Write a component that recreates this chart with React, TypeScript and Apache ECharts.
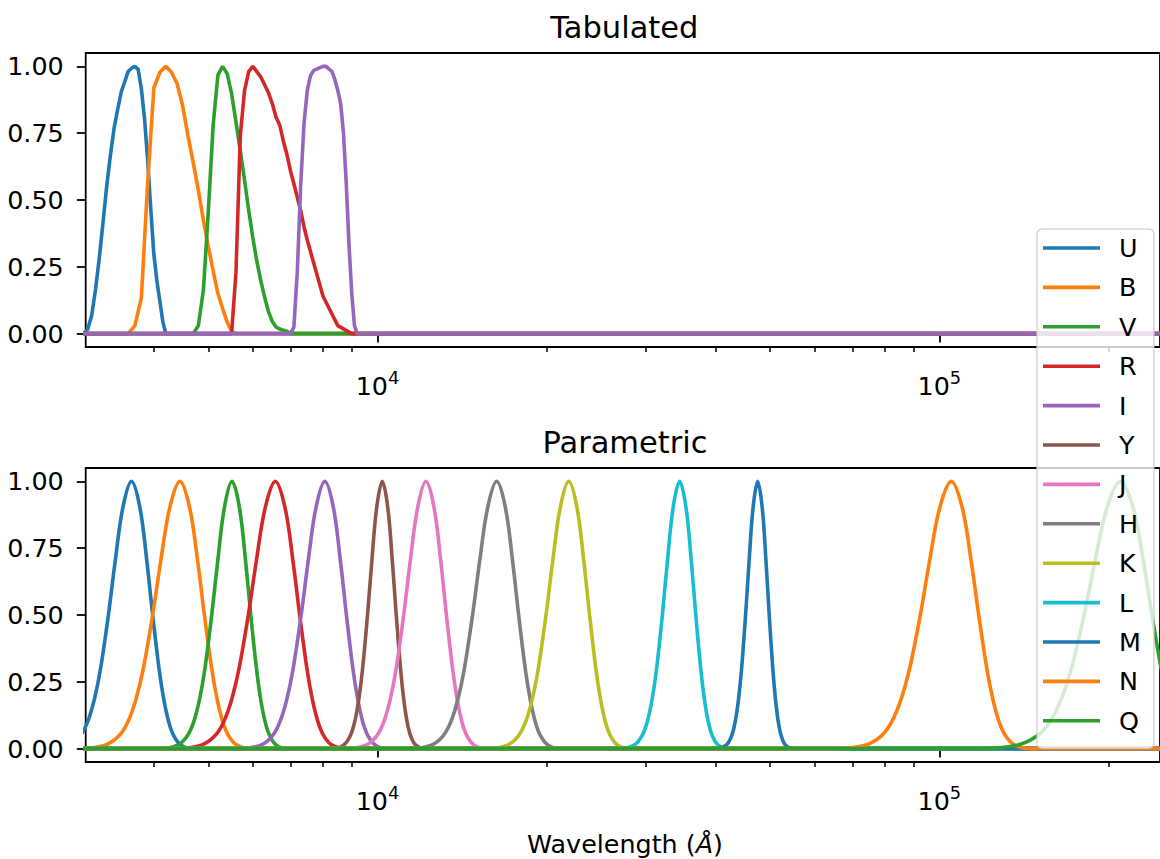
import React, { useEffect, useRef } from "react";
import * as echarts from "echarts";

// ---------- axis data ----------
const X_MIN = 3025; // Å, left edge of the wavelength axis
const X_MAX = 247000; // Å, right edge (just beyond the picture)
const CURVE_RANGE = [2000, 400000]; // Å, the curves are evaluated (at zero) over this range
const MAJOR_TICKS = [10000, 100000];
const MINOR_TICKS = [4000, 5000, 6000, 7000, 8000, 9000, 20000, 30000, 40000, 50000, 60000, 70000, 80000, 90000, 200000];
const Y_TICKS = [0, 0.25, 0.5, 0.75, 1];

const COLORS = ["#1f77b4", "#ff7f0e", "#2ca02c", "#d62728", "#9467bd", "#8c564b", "#e377c2", "#7f7f7f", "#bcbd22", "#17becf", "#1f77b4", "#ff7f0e", "#2ca02c"];

// ---------- tabulated filters: [wavelength Å, transmission] ----------
const TAB_NAMES = ["U", "B", "V", "R", "I"];
const TAB_U = [[3000, 0], [3050, 0.016], [3100, 0.068], [3150, 0.167], [3200, 0.287], [3250, 0.423], [3300, 0.56], [3350, 0.673], [3400, 0.772], [3450, 0.841], [3500, 0.905], [3550, 0.943], [3600, 0.981], [3650, 0.993], [3700, 1.0], [3750, 0.989], [3800, 0.916], [3850, 0.804], [3900, 0.647], [3950, 0.463], [4000, 0.296], [4050, 0.197], [4100, 0.121], [4150, 0.044], [4200, 0]];
const TAB_B = [[3600, 0], [3700, 0.03], [3800, 0.134], [3900, 0.567], [4000, 0.92], [4100, 0.978], [4200, 1.0], [4300, 0.978], [4400, 0.935], [4500, 0.853], [4600, 0.74], [4700, 0.64], [4800, 0.536], [4900, 0.424], [5000, 0.325], [5100, 0.235], [5200, 0.15], [5300, 0.095], [5400, 0.043], [5500, 0.009], [5600, 0]];
const TAB_V = [[4700, 0], [4800, 0.03], [4900, 0.163], [5000, 0.458], [5100, 0.78], [5200, 0.967], [5300, 1.0], [5400, 0.973], [5500, 0.898], [5600, 0.792], [5700, 0.684], [5800, 0.574], [5900, 0.461], [6000, 0.359], [6100, 0.27], [6200, 0.197], [6300, 0.135], [6400, 0.081], [6500, 0.045], [6600, 0.025], [6700, 0.017], [6800, 0.013], [6900, 0.009], [7000, 0]];
const TAB_R = [[5500, 0], [5600, 0.23], [5700, 0.74], [5800, 0.91], [5900, 0.98], [6000, 1.0], [6100, 0.98], [6200, 0.96], [6300, 0.93], [6400, 0.9], [6500, 0.86], [6600, 0.81], [6700, 0.78], [6800, 0.72], [6900, 0.67], [7000, 0.61], [7100, 0.56], [7200, 0.51], [7300, 0.46], [7400, 0.4], [7500, 0.35], [8000, 0.14], [8500, 0.03], [9000, 0]];
const TAB_I = [[7000, 0], [7100, 0.024], [7200, 0.232], [7300, 0.555], [7400, 0.785], [7500, 0.91], [7600, 0.965], [7700, 0.985], [7800, 0.99], [7900, 0.995], [8000, 1.0], [8100, 1.0], [8200, 0.99], [8300, 0.98], [8400, 0.95], [8500, 0.91], [8600, 0.86], [8700, 0.75], [8800, 0.56], [8900, 0.33], [9000, 0.15], [9100, 0.03], [9200, 0]];
const TAB_DATA = [TAB_U, TAB_B, TAB_V, TAB_R, TAB_I];

// ---------- parametric filters: wavelengths (Å) at these transmission levels ----------
const PARAM_NAMES = ["U", "B", "V", "R", "I", "Y", "J", "H", "K", "L", "M", "N", "Q"];
const PARAM_LEVELS = [0, 0.013, 0.047, 0.1, 0.185, 0.3, 0.5, 0.7, 0.9, 1, 0.9, 0.7, 0.5, 0.3, 0.185, 0.1, 0.047, 0.013, 0];
const PAR_U = [2594, 2825, 2957, 3049, 3135, 3215, 3320, 3413, 3521, 3650, 3779, 3887, 3980, 4085, 4165, 4251, 4343, 4475, 4706];
const PAR_B = [2946, 3275, 3463, 3595, 3717, 3831, 3980, 4113, 4267, 4450, 4633, 4787, 4920, 5069, 5183, 5305, 5437, 5625, 5954];
const PAR_V = [4102, 4410, 4586, 4709, 4824, 4931, 5070, 5195, 5338, 5510, 5682, 5826, 5950, 6090, 6196, 6311, 6434, 6610, 6918];
const PAR_R = [4372, 4855, 5131, 5324, 5504, 5671, 5890, 6085, 6311, 6580, 6849, 7075, 7270, 7489, 7656, 7836, 8029, 8305, 8788];
const PAR_I = [5676, 6198, 6496, 6704, 6898, 7079, 7315, 7526, 7769, 8060, 8351, 8594, 8805, 9041, 9222, 9416, 9625, 9923, 10444];
const PAR_Y = [8280, 8700, 8940, 9108, 9264, 9410, 9600, 9770, 9966, 10200, 10434, 10630, 10800, 10990, 11136, 11292, 11460, 11700, 12120];
const PAR_J = [8792, 9538, 9963, 10262, 10539, 10797, 11135, 11436, 11785, 12200, 12615, 12964, 13265, 13603, 13861, 14138, 14437, 14863, 15608];
const PAR_H = [11388, 12463, 13077, 13506, 13905, 14278, 14765, 15199, 15701, 16300, 16899, 17401, 17835, 18322, 18695, 19094, 19524, 20138, 21212];
const PAR_K = [15660, 17025, 17805, 18351, 18858, 19332, 19950, 20502, 21140, 21900, 22660, 23298, 23850, 24468, 24942, 25449, 25995, 26775, 28140];
const PAR_L = [26948, 28600, 29544, 30205, 30818, 31392, 32140, 32808, 33580, 34500, 35420, 36192, 36860, 37608, 38182, 38795, 39456, 40400, 42052];
const PAR_M = [40140, 41750, 42670, 43314, 43912, 44471, 45200, 45851, 46603, 47500, 48397, 49149, 49800, 50529, 51088, 51686, 52330, 53250, 54860];
const PAR_N = [65000, 73750, 78750, 82250, 85500, 88538, 92500, 96038, 100125, 105000, 109875, 113962, 117500, 121462, 124500, 127750, 131250, 136250, 145000];
const PAR_Q = [117200, 137500, 149100, 157220, 164760, 171807, 181000, 189207, 198690, 210000, 221310, 230793, 239000, 248193, 255240, 262780, 270900, 282500, 302800];
const PARAM_DATA = [PAR_U, PAR_B, PAR_V, PAR_R, PAR_I, PAR_Y, PAR_J, PAR_H, PAR_K, PAR_L, PAR_M, PAR_N, PAR_Q];

const TITLES = ["Tabulated", "Parametric"];
const X_LABEL_MAIN = "Wavelength (";
const X_LABEL_UNIT = "Å";

const FONT = "DejaVu Sans";
const FS = 25.4; // tick / legend / label font size
const FS_TITLE = 30.5;
const lg = (v: number) => Math.log10(v);

function withRange(pairs: number[][]) {
  return [[lg(CURVE_RANGE[0]), 0], ...pairs.map(([w, v]) => [lg(w), v]), [lg(CURVE_RANGE[1]), 0]];
}

export default function App() {
  const ref = useRef<HTMLDivElement>(null);
  useEffect(() => {
    if (!ref.current) return;
    const chart = echarts.init(ref.current, null, { renderer: "svg" });

    const gridL = 85.7;
    const gridW = 1077.5;
    const gridH = 294;
    const tops = [53, 468];

    const xAxes: any[] = [];
    const yAxes: any[] = [];
    tops.forEach((_, gi) => {
      xAxes.push({
        type: "value",
        gridIndex: gi,
        position: "bottom",
        min: lg(X_MIN),
        max: lg(X_MAX),
        axisLine: { show: false },
        splitLine: { show: false },
        axisTick: { show: true, length: 8.9, lineStyle: { color: "#000", width: 1.8 }, customValues: MAJOR_TICKS.map(lg) },
        axisLabel: {
          show: true,
          customValues: MAJOR_TICKS.map(lg),
          margin: 21,
          formatter: (v: number) => `{b|10}{s|${Math.round(v)}}`,
          rich: {
            b: { fontSize: FS, fontFamily: FONT, color: "#000", lineHeight: 30, verticalAlign: "bottom" },
            s: { fontSize: 17.8, fontFamily: FONT, color: "#000", lineHeight: 17, verticalAlign: "top" },
          },
        },
      });
      xAxes.push({
        type: "value",
        gridIndex: gi,
        position: "bottom",
        min: lg(X_MIN),
        max: lg(X_MAX),
        axisLine: { show: false },
        splitLine: { show: false },
        axisTick: { show: true, length: 5.1, lineStyle: { color: "#000", width: 1.5 }, customValues: MINOR_TICKS.map(lg) },
        axisLabel: { show: false },
      });
      yAxes.push({
        type: "value",
        gridIndex: gi,
        min: -0.05,
        max: 1.05,
        axisLine: { show: false },
        splitLine: { show: false },
        axisTick: { show: true, length: 8.9, lineStyle: { color: "#000", width: 1.8 }, customValues: Y_TICKS },
        axisLabel: {
          customValues: Y_TICKS,
          margin: 22,
          fontSize: FS,
          fontFamily: FONT,
          color: "#000",
          formatter: (v: number) => v.toFixed(2),
        },
      });
    });

    const series: any[] = [];
    TAB_NAMES.forEach((name, i) => {
      series.push({
        type: "line",
        name,
        xAxisIndex: 0,
        yAxisIndex: 0,
        data: withRange(TAB_DATA[i]),
        showSymbol: false,
        symbol: "none",
        color: COLORS[i],
        lineStyle: { width: 3.6, color: COLORS[i] },
        clip: true,
      });
    });
    PARAM_NAMES.forEach((name, i) => {
      const pairs = PARAM_DATA[i].map((w, j) => [w, PARAM_LEVELS[j]]);
      series.push({
        type: "line",
        name,
        xAxisIndex: 2,
        yAxisIndex: 1,
        data: withRange(pairs),
        showSymbol: false,
        symbol: "none",
        smooth: 0.35,
        color: COLORS[i],
        lineStyle: { width: 3.6, color: COLORS[i] },
        clip: true,
      });
    });

    chart.setOption({
      animation: false,
      backgroundColor: "#fff",
      grid: tops.map((t) => ({
        left: gridL,
        top: t,
        width: gridW,
        height: gridH,
        show: true,
        borderColor: "#000",
        borderWidth: 1.8,
        backgroundColor: "transparent",
      })),
      xAxis: xAxes,
      yAxis: yAxes,
      legend: {
        data: PARAM_NAMES,
        orient: "vertical",
        left: 1037,
        top: 229,
        icon: "rect",
        itemWidth: 57,
        itemHeight: 3.6,
        itemGap: 14.4,
        padding: [6.5, 13, 15, 6],
        backgroundColor: "rgba(255,255,255,0.8)",
        borderColor: "rgba(204,204,204,0.8)",
        borderWidth: 1.5,
        borderRadius: 5,
        selectedMode: false,
        itemStyle: { borderWidth: 0 },
        textStyle: { fontSize: FS, fontFamily: FONT, color: "#000", lineHeight: 24, padding: [0, 0, 0, 14] },
        z: 20,
      },
      graphic: [
        {
          type: "text",
          x: 624.3,
          y: 27,
          style: { text: TITLES[0], fontSize: FS_TITLE, fontFamily: FONT, fill: "#000", align: "center", verticalAlign: "middle" },
        },
        {
          type: "text",
          x: 625,
          y: 442,
          style: { text: TITLES[1], fontSize: FS_TITLE, fontFamily: FONT, fill: "#000", align: "center", verticalAlign: "middle" },
        },
        {
          type: "text",
          x: 625,
          y: 843.5,
          style: {
            text: `{n|${X_LABEL_MAIN}}{i|${X_LABEL_UNIT}}{n|)}`,
            align: "center",
            verticalAlign: "middle",
            rich: {
              n: { fontSize: FS, fontFamily: FONT, fill: "#000" },
              i: { fontSize: FS, fontFamily: FONT, fontStyle: "italic", fill: "#000" },
            },
          },
        },
      ],
      series,
    });
    return () => chart.dispose();
  }, []);

  return (
    <div
      ref={ref}
      style={{ position: "absolute", left: 0, top: 0, width: 1160, height: 859, background: "#fff" }}
    />
  );
}
